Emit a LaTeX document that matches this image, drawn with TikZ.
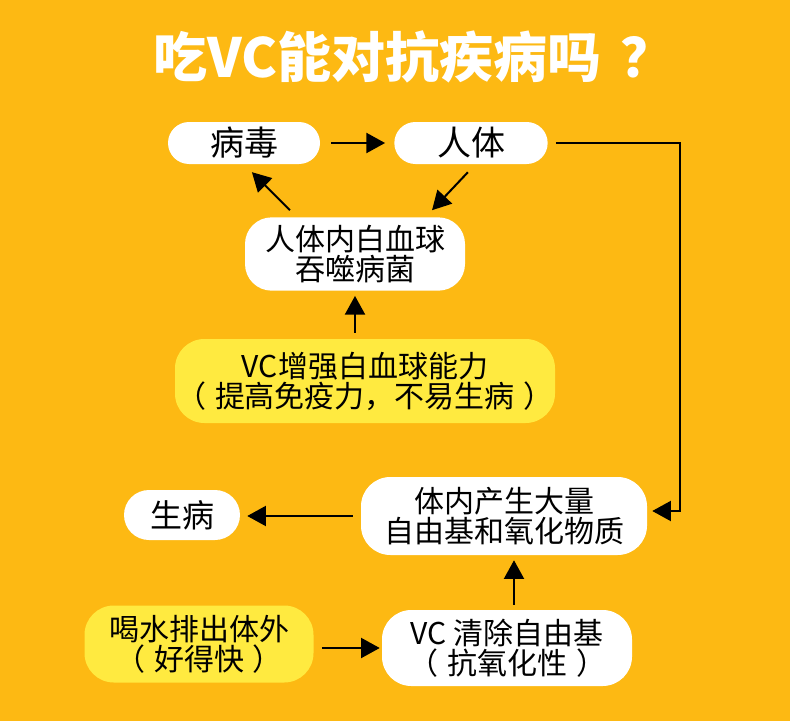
\documentclass[tikz,border=0pt]{standalone}
\usepackage{fontspec}
\setmainfont{Noto Sans CJK SC}
\usetikzlibrary{arrows.meta}

\definecolor{bgorange}{RGB}{253,185,19}
\definecolor{boxyellow}{RGB}{255,234,64}

\newcommand{\gap}{\hspace{0.3em}}

\begin{document}
\begin{tikzpicture}[
  x=0.75pt, y=-0.75pt,
  >={Triangle[length=14pt,width=15pt]},
  pill/.style={fill=white, inner sep=0pt, align=center,
    font=\fontsize{22.5}{22.5}\selectfont},
  soft/.style={pill, fill=boxyellow},
  link/.style={->, line width=1.5pt}
]
\useasboundingbox[fill=bgorange] (0,0) rectangle (790,721);

% title
\node[text=white, font=\fontsize{40.5}{40.5}\selectfont\bfseries] (title) at (414,57) {吃VC能对抗疾病吗\hspace{0.35em}？};

% top cycle
\node[pill, minimum width=114pt, minimum height=31.5pt, rounded corners=15.75pt,
  font=\fontsize{25.5}{25.5}\selectfont] (bingdu) at (244,143) {病毒};
\node[pill, minimum width=115pt, minimum height=31.5pt, rounded corners=15.75pt,
  font=\fontsize{25.5}{25.5}\selectfont] (renti) at (471,143) {人体};
\node[pill, minimum width=165pt, minimum height=55pt, rounded corners=20pt] (baixue) at (355,254)
  {人体内白血球\\吞噬病菌};
\node[soft, minimum width=285pt, minimum height=63pt, rounded corners=22pt] (zengqiang) at (365,381)
  {VC增强白血球能力\\（\gap 提高免疫力，不易生病\gap ）};

% bottom part
\node[pill, minimum width=214.5pt, minimum height=58.5pt, rounded corners=22pt] (tinei) at (504,516)
  {体内产生大量\\自由基和氧化物质};
\node[pill, minimum width=87pt, minimum height=37.5pt, rounded corners=18.75pt,
  font=\fontsize{24}{24}\selectfont] (shengbing) at (182,515) {生病};
\node[soft, minimum width=171.75pt, minimum height=57.75pt, rounded corners=22pt] (heshui) at (199,644)
  {喝水排出体外\\（\gap 好得快\gap ）};
\node[pill, minimum width=187.5pt, minimum height=57pt, rounded corners=22pt] (qingchu) at (507,648)
  {VC 清除自由基\\（\gap 抗氧化性\gap ）};

\coordinate (turn) at (680,143);

% connectors
\draw[link, shorten <=8.25pt, shorten >=6.75pt] (bingdu) -- (renti);
\draw[link, shorten <=8.2pt, shorten >=7.1pt] ([xshift=3.3pt]renti.south) -- ([xshift=52.9pt]baixue.north);
\draw[link, shorten <=7.3pt, shorten >=8.4pt] ([xshift=-43.6pt]baixue.north) -- (bingdu.south);
\draw[link, shorten <=4.5pt, shorten >=3.75pt] (baixue.south |- zengqiang.north) -- (baixue.south);
\draw[link, shorten <=6pt, shorten >=3.75pt] (renti.east) -- (turn) |- ([yshift=3.75pt]tinei.east);
\draw[link, shorten <=6pt, shorten >=5.25pt] (tinei.west) -- (tinei.west -| shengbing.east);
\draw[link, shorten <=3.75pt, shorten >=3.75pt] ([xshift=5.25pt]qingchu.north) -- ([xshift=7.5pt]tinei.south);
\draw[link, shorten <=6pt, shorten >=1.5pt] (heshui.east |- qingchu.west) -- (qingchu.west);

\end{tikzpicture}
\end{document}
